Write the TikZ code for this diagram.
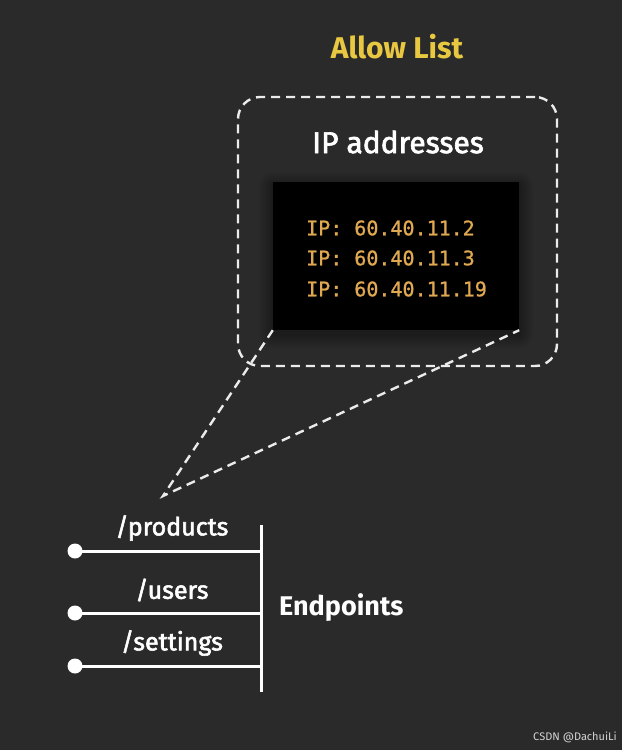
\documentclass[tikz,border=0pt]{standalone}
\usepackage{fontspec}
\setmainfont{Fira Sans}
\newfontfamily\medfont{Fira Sans}[FakeBold=2.2]
\newfontfamily\monofont{DejaVu Sans Mono}[FakeBold=1]
\definecolor{bg}{RGB}{42,42,42}
\definecolor{allowyellow}{RGB}{232,200,64}
\definecolor{ipgold}{RGB}{224,168,80}
\definecolor{dashwhite}{RGB}{235,235,235}
\begin{document}
\begin{tikzpicture}[x=1pt,y=-1pt,
  dashline/.style={draw=dashwhite,line width=2.4pt,dash pattern=on 9pt off 6pt},
  title/.style={font=\fontsize{30}{34}\selectfont\bfseries,text=allowyellow,inner sep=0pt},
  heading/.style={font=\medfont\fontsize{30}{34}\selectfont,text=white,inner sep=0pt},
  iptext/.style={font=\monofont\fontsize{20}{30}\selectfont,text=ipgold,inner sep=0pt,anchor=west},
  eplabel/.style={font=\medfont\fontsize{25}{30}\selectfont,text=white,inner sep=0pt},
  wire/.style={draw=white,line width=3pt},
  dot/.style={circle,fill=white,minimum size=15pt,inner sep=0pt}]
\fill[bg] (0,0) rectangle (622,750);
\useasboundingbox (0,0) rectangle (622,750);
% title
\node[title] (allow) at (397,47) {Allow List};
% dashed container
\node[dashline,rounded corners=22pt,minimum width=319pt,minimum height=269pt,inner sep=0pt] (box) at (397.5,231.5) {};
\node[heading] (iphead) at (398,142) {IP addresses};
% soft shadow under terminal box
\foreach \s in {2,4,...,14}{
  \fill[black,opacity=0.035,rounded corners=\s pt] (273-\s,182-\s+4) rectangle (519+\s,330+\s+4);
}
\node[fill=black,minimum width=246pt,minimum height=148pt,inner sep=0pt] (term) at (396,256) {};
\node[iptext] (ip1) at (306,228) {IP: 60.40.11.2};
\node[iptext] (ip2) at (306,258) {IP: 60.40.11.3};
\node[iptext] (ip3) at (306,289) {IP: 60.40.11.19};
% zoom lines
\coordinate (apex) at (163,496);
\draw[dashline] (term.south west) -- (apex) -- (term.south east);
% endpoints
\coordinate (bartop) at (261,525);
\coordinate (barbot) at (261,692);
\draw[wire] (bartop) -- (barbot);
\node[dot] (d1) at (75,551) {};
\node[dot] (d2) at (75,613) {};
\node[dot] (d3) at (75,666) {};
\coordinate (j1) at (261,551);
\coordinate (j2) at (261,613);
\coordinate (j3) at (261,666);
\draw[wire] (d1.center) -- (j1);
\draw[wire] (d2.center) -- (j2);
\draw[wire] (d3.center) -- (j3);
\node[eplabel] (l1) at (172,528) {/products};
\node[eplabel] (l2) at (172,590) {/users};
\node[eplabel] (l3) at (172,643) {/settings};
\node[font=\fontsize{27}{30}\selectfont\bfseries,text=white,inner sep=0pt,anchor=west] (ep) at (279,608) {Endpoints};
% watermark
\node[font=\fontsize{11}{13}\selectfont,text=white!80!bg,inner sep=0pt] (wm) at (575,737) {CSDN @DachuiLi};
\end{tikzpicture}
\end{document}
